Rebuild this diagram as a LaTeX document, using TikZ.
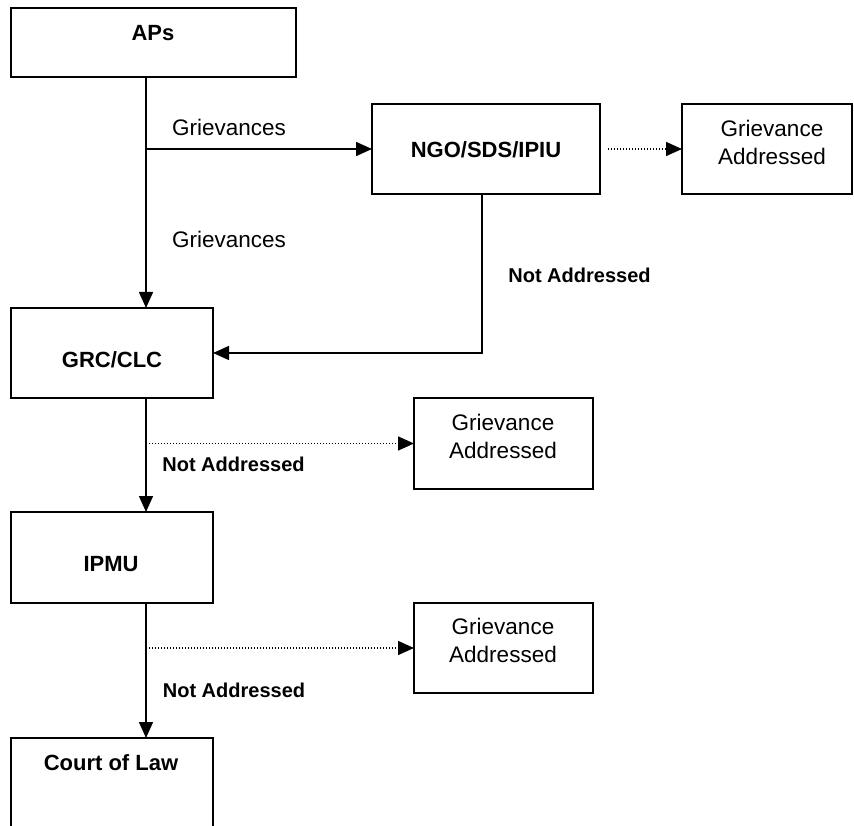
\documentclass[tikz,border=0pt]{standalone}
\usepackage{fontspec}
\setmainfont{Liberation Sans}
\usetikzlibrary{arrows.meta}
\begin{document}
\begin{tikzpicture}[x=1pt,y=-1pt,
 boxnode/.style={draw, line width=1.8pt, rectangle, inner sep=0pt, outer sep=0pt},
 conn/.style={line width=1.5pt, -{Triangle[length=16pt,width=14pt]}},
 dotconn/.style={line width=1.5pt, dash pattern=on 1.4pt off 1.6pt, -{Triangle[length=16pt,width=14pt]}},
 boldlbl/.style={font=\fontsize{22}{26}\selectfont\bfseries, inner sep=0pt},
 txt/.style={font=\fontsize{22.5}{28}\selectfont, inner sep=0pt, align=center},
 nalbl/.style={font=\fontsize{20}{24}\selectfont\bfseries, inner sep=0pt}]
\useasboundingbox (0,0) rectangle (854,826);
\clip (0,0) rectangle (854,826);
% boxes
\node[boxnode, minimum width=285pt, minimum height=69pt] (aps) at (153.5,42.5) {};
\node[boxnode, minimum width=228pt, minimum height=90pt] (ngo) at (486,149) {};
\node[boxnode, minimum width=170pt, minimum height=90pt] (ga1) at (767,149) {};
\node[boxnode, minimum width=202pt, minimum height=90pt] (grc) at (112,353) {};
\node[boxnode, minimum width=179pt, minimum height=91pt] (ga2) at (503.5,443.5) {};
\node[boxnode, minimum width=202pt, minimum height=91pt] (ipmu) at (112,557.5) {};
\node[boxnode, minimum width=179pt, minimum height=90pt] (ga3) at (503.5,648) {};
\node[boxnode, minimum width=202pt, minimum height=102pt] (court) at (112,789) {};
% helper coordinates
\coordinate (gx) at (146,0);
\coordinate (nx) at (482,0);
% connectors
\draw[conn] (gx |- aps.south) -- (gx |- grc.north);
\draw[conn] (gx |- ngo.west) -- (ngo.west);
\draw[conn] (nx |- ngo.south) |- (grc.east);
\draw[conn] (gx |- grc.south) -- (gx |- ipmu.north);
\draw[conn] (gx |- ipmu.south) -- (gx |- court.north);
\draw[dotconn] ([xshift=8pt]ngo.east) -- (ga1.west);
\draw[dotconn] (gx |- ga2.west) -- (ga2.west);
\draw[dotconn] (gx |- ga3.west) -- (ga3.west);
% labels
\node[boldlbl] (apst) at (153,33) {APs};
\node[boldlbl] (ngot) at (486,150) {NGO/SDS/IPIU};
\node[txt] (ga1t) at (772,142.5) {Grievance\\Addressed};
\node[boldlbl] (grct) at (112,360) {GRC/CLC};
\node[txt] (ga2t) at (503,436.5) {Grievance\\Addressed};
\node[boldlbl] (ipmut) at (111,564) {IPMU};
\node[txt] (ga3t) at (503,640.5) {Grievance\\Addressed};
\node[boldlbl] (courtt) at (111,763) {Court of Law};
\node[txt] (g1) at (229,127) {Grievances};
\node[txt] (g2) at (229,239) {Grievances};
\node[nalbl] (na1) at (579.5,275) {Not Addressed};
\node[nalbl] (na2) at (233.5,464) {Not Addressed};
\node[nalbl] (na3) at (234,690) {Not Addressed};
\end{tikzpicture}
\end{document}
